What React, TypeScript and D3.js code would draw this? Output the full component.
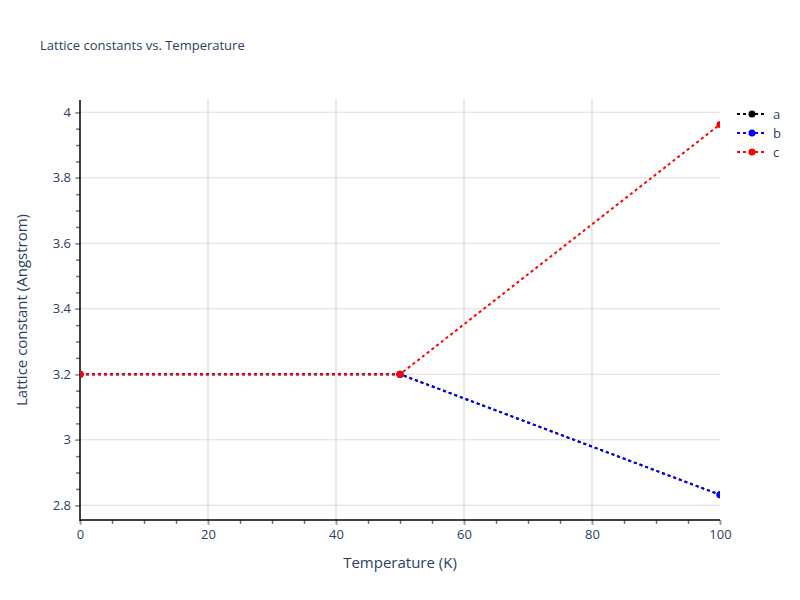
import { useEffect, useRef } from "react";
import * as d3 from "d3";

const temperatures = [0, 50, 100];
const seriesNames = ["a", "b", "c"];
const seriesColors = ["#000000", "#0000ff", "#ff0000"];
const aValues = [3.2, 3.2, 2.832];
const bValues = [3.2, 3.2, 2.832];
const cValues = [3.2, 3.2, 3.963];
const xTicks = [0, 20, 40, 60, 80, 100];
const yTicks = [2.8, 3, 3.2, 3.4, 3.6, 3.8, 4];

export default function App() {
  const ref = useRef<SVGSVGElement>(null);

  useEffect(() => {
    if (!ref.current) return;
    const root = d3.select(ref.current);
    root.selectAll("*").remove();

    const W = 800;
    const H = 600;
    const left = 80, right = 720, top = 100, bottom = 520;
    const font = "'Open Sans', verdana, arial, sans-serif";
    const textColor = "#2a3f5f";

    root.append("rect").attr("width", W).attr("height", H).attr("fill", "#fff");

    const x = d3.scaleLinear().domain([0, 100]).range([left, right]);
    const y = d3.scaleLinear().domain([2.755, 4.0375]).range([bottom, top]);

    // grid
    root
      .append("g")
      .selectAll("line")
      .data(xTicks.slice(1, -1))
      .enter()
      .append("line")
      .attr("x1", (d) => x(d))
      .attr("x2", (d) => x(d))
      .attr("y1", top)
      .attr("y2", bottom)
      .attr("stroke", "#e8e8e8")
      .attr("stroke-width", 2);

    root
      .append("g")
      .selectAll("line")
      .data(yTicks)
      .enter()
      .append("line")
      .attr("x1", left)
      .attr("x2", right)
      .attr("y1", (d) => y(d))
      .attr("y2", (d) => y(d))
      .attr("stroke", "#dcdcdc")
      .attr("stroke-width", 1);

    // minor ticks
    const xMinor = d3.range(0, 100.01, 5);
    const yMinor = d3.range(2.8, 4.01, 0.05);
    root
      .append("g")
      .attr("transform", `translate(0,${bottom})`)
      .call(d3.axisBottom(x).tickValues(xMinor).tickSize(4).tickFormat(() => ""))
      .call((g) => g.select(".domain").remove())
      .call((g) => g.selectAll(".tick line").attr("stroke", "#777").attr("stroke-width", 1.5));
    root
      .append("g")
      .attr("transform", `translate(${left},0)`)
      .call(d3.axisLeft(y).tickValues(yMinor).tickSize(4).tickFormat(() => ""))
      .call((g) => g.select(".domain").remove())
      .call((g) => g.selectAll(".tick line").attr("stroke", "#777").attr("stroke-width", 1.5));

    // major axes
    root
      .append("g")
      .attr("transform", `translate(0,${bottom})`)
      .call(d3.axisBottom(x).tickValues(xTicks).tickSize(5).tickPadding(5).tickFormat(d3.format("d")))
      .call((g) => g.select(".domain").remove())
      .call((g) => g.selectAll(".tick line").attr("stroke", "#999").attr("stroke-width", 1.5))
      .call((g) =>
        g.selectAll(".tick text").attr("fill", textColor).style("font-size", "13px").style("font-family", font)
      );
    root
      .append("g")
      .attr("transform", `translate(${left},0)`)
      .call(d3.axisLeft(y).tickValues(yTicks).tickSize(5).tickPadding(4).tickFormat((d) => String(+(+d).toFixed(1))))
      .call((g) => g.select(".domain").remove())
      .call((g) => g.selectAll(".tick line").attr("stroke", "#999").attr("stroke-width", 1.5))
      .call((g) =>
        g.selectAll(".tick text").attr("fill", textColor).style("font-size", "13px").style("font-family", font)
      );

    // axis lines
    root.append("line").attr("x1", left).attr("x2", left).attr("y1", top).attr("y2", bottom + 1)
      .attr("stroke", "#000").attr("stroke-width", 1.5);
    root.append("line").attr("x1", left).attr("x2", right).attr("y1", bottom).attr("y2", bottom)
      .attr("stroke", "#000").attr("stroke-width", 1.5);

    // clip
    root
      .append("defs")
      .append("clipPath")
      .attr("id", "plot-clip")
      .append("rect")
      .attr("x", left)
      .attr("y", top)
      .attr("width", right - left)
      .attr("height", bottom - top);

    const series = [aValues, bValues, cValues];
    const line = d3
      .line<number>()
      .x((_, i) => x(temperatures[i]))
      .y((d) => y(d));

    const plot = root.append("g").attr("clip-path", "url(#plot-clip)");
    series.forEach((vals, si) => {
      const g = plot.append("g");
      g.append("path")
        .attr("d", line(vals) || "")
        .attr("fill", "none")
        .attr("stroke", seriesColors[si])
        .attr("stroke-width", 2)
        .attr("stroke-dasharray", "3,3");
      g.selectAll("circle")
        .data(vals)
        .enter()
        .append("circle")
        .attr("cx", (_, i) => x(temperatures[i]))
        .attr("cy", (d) => y(d))
        .attr("r", 3.5)
        .attr("fill", seriesColors[si]);
    });

    // title
    root
      .append("text")
      .attr("x", 40)
      .attr("y", 50)
      .attr("fill", textColor)
      .style("font-size", "13px")
      .style("font-family", font)
      .text("Lattice constants vs. Temperature");

    // axis titles
    root
      .append("text")
      .attr("x", (left + right) / 2)
      .attr("y", 568)
      .attr("text-anchor", "middle")
      .attr("fill", textColor)
      .style("font-size", "15px")
      .style("font-family", font)
      .text("Temperature (K)");
    root
      .append("text")
      .attr("transform", `translate(27,${(top + bottom) / 2}) rotate(-90)`)
      .attr("text-anchor", "middle")
      .attr("fill", textColor)
      .style("font-size", "15px")
      .style("font-family", font)
      .text("Lattice constant (Angstrom)");

    // legend
    const legend = root.append("g").attr("transform", "translate(737,114)");
    seriesNames.forEach((name, i) => {
      const row = legend.append("g").attr("transform", `translate(0,${i * 19})`);
      row.append("line")
        .attr("x1", 0).attr("x2", 30).attr("y1", 0).attr("y2", 0)
        .attr("stroke", seriesColors[i]).attr("stroke-width", 2).attr("stroke-dasharray", "3,3");
      row.append("circle").attr("cx", 15).attr("cy", 0).attr("r", 3.5).attr("fill", seriesColors[i]);
      row.append("text")
        .attr("x", 36)
        .attr("y", 4.5)
        .attr("fill", textColor)
        .style("font-size", "13px")
        .style("font-family", font)
        .text(name);
    });
  }, []);

  return <svg ref={ref} width={800} height={600} style={{ display: "block", margin: -8 }} />;
}
